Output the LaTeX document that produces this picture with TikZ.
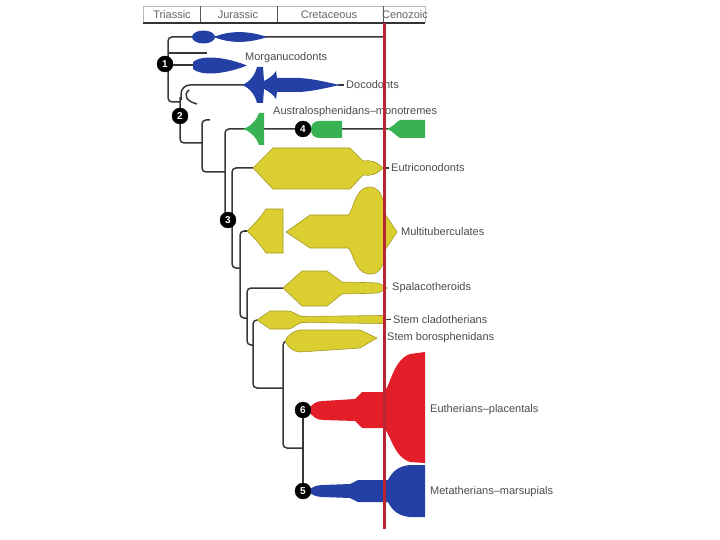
\documentclass[tikz,border=0pt]{standalone}
\usepackage{fontspec}
\setmainfont{Liberation Sans}
\definecolor{blueC}{RGB}{36,64,165}
\definecolor{yelC}{RGB}{218,206,48}
\definecolor{yelD}{RGB}{165,152,40}
\definecolor{grnC}{RGB}{56,178,82}
\definecolor{redC}{RGB}{226,30,40}
\definecolor{lineR}{RGB}{185,38,50}
\definecolor{treeC}{RGB}{55,55,55}
\definecolor{txtC}{RGB}{75,75,75}
\definecolor{hdrC}{RGB}{100,100,100}
\begin{document}
\begin{tikzpicture}[x=1pt,y=-1pt,
  tree/.style={draw=treeC, line width=1.5pt, rounded corners=4pt},
  cnode/.style={circle, fill=black, draw=black, inner sep=0pt, minimum size=16pt, text=white, font=\bfseries\fontsize{10}{10}\selectfont},
  lbl/.style={anchor=west, inner sep=0pt, text=txtC, font=\fontsize{11}{13}\selectfont},
  hdr/.style={text=hdrC, inner sep=0pt, font=\fontsize{11}{12}\selectfont},
  blueb/.style={fill=blueC},
  yelb/.style={fill=yelC, draw=yelD, line width=0.6pt},
  grnb/.style={fill=grnC},
  redb/.style={fill=redC}]
\useasboundingbox (0,0) rectangle (720,540);

% ---------- header ----------
\draw[gray!55, line width=0.8pt] (143,23) -- (143,6) -- (425,6) -- (425,23);
\draw[gray!70!black, line width=0.8pt] (200,6) -- (200,23) (277,6) -- (277,23) (383,6) -- (383,23);
\draw[black!80, line width=2pt] (143,23) -- (425,23);
\node[hdr] (hT) at (172,15) {Triassic};
\node[hdr] (hJ) at (238,15) {Jurassic};
\node[hdr] (hC) at (329,15) {Cretaceous};
\node[hdr] (hZ) at (405,15) {Cenozoic};

% ---------- coordinates ----------
\coordinate (topEnd) at (383,37);
\coordinate (rootTop) at (168,37);
\coordinate (rootBot) at (168,102);
\coordinate (c2join) at (180,102);
\coordinate (stubA) at (168,53);
\coordinate (stubB) at (207,53);
\coordinate (morgTip) at (196,65);
\coordinate (c2top) at (180,97);
\coordinate (c2bot) at (180,143);
\coordinate (c3join) at (202,143);
\coordinate (docoStart) at (181,100);
\coordinate (docoTip) at (243,85);
\coordinate (hookR) at (210,120);
\coordinate (c4top) at (202,120);
\coordinate (c4bot) at (202,172);
\coordinate (c5join) at (225,172);
\coordinate (c5top) at (225,129);
\coordinate (c5bot) at (225,215);
\coordinate (greenEnd) at (388,129);
\coordinate (eutTip) at (254,168);
\coordinate (c6top) at (232,168);
\coordinate (c6bot) at (232,268);
\coordinate (c7join) at (240,268);
\coordinate (multTip) at (248,231);
\coordinate (c7top) at (240,231);
\coordinate (c7bot) at (240,318);
\coordinate (c8join) at (247,318);
\coordinate (spalTip) at (284,288);
\coordinate (c8top) at (247,288);
\coordinate (c8bot) at (247,345);
\coordinate (c9join) at (253,345);
\coordinate (cladTip) at (258,320);
\coordinate (c9top) at (253,320);
\coordinate (c9bot) at (253,388);
\coordinate (c10join) at (283,388);
\coordinate (boroTip) at (286,341);
\coordinate (c10top) at (283,341);
\coordinate (c10bot) at (283,448);
\coordinate (c11join) at (303,448);

% ---------- tree lines ----------
\draw[tree] (topEnd) -- (rootTop) -- (rootBot) -- (c2join);
\draw[tree] (stubA) -- (stubB);
\draw[tree] (165,65) -- (morgTip);
\draw[tree] (c2top) -- (c2bot) -- (c3join);
\draw[tree, rounded corners=9pt] (docoStart) |- (docoTip);
\draw[treeC, line width=1.5pt] (189,90) .. controls (183,95) and (186,101) .. (197,104);
\draw[tree] (hookR) -- (c4top) -- (c4bot) -- (c5join);
\draw[tree] (greenEnd) -- (c5top) -- (c5bot);
\draw[tree] (eutTip) -- (c6top) -- (c6bot) -- (c7join);
\draw[tree] (multTip) -- (c7top) -- (c7bot) -- (c8join);
\draw[tree] (spalTip) -- (c8top) -- (c8bot) -- (c9join);
\draw[tree] (cladTip) -- (c9top) -- (c9bot) -- (c10join);
\draw[tree] (boroTip) -- (c10top) -- (c10bot) -- (c11join);
\draw[tree] (338,85) -- (344,85);
\draw[tree] (383,168) -- (389,168);
\draw[tree] (384,319.5) -- (391,319.5);

% ---------- blue (top, morganucodonts, docodonts) ----------
\fill[blueb] (203.5,37) ellipse [x radius=11.5, y radius=6.5];
\fill[blueb] (214,37) .. controls (230,30) and (250,31) .. (267,37)
  .. controls (250,43) and (230,44) .. (214,37) -- cycle;
\fill[blueb] (193,62) .. controls (200,56) and (220,55) .. (247,65.5)
  .. controls (220,76) and (200,75) .. (193,69) -- cycle;
\fill[blueb] (242,85) .. controls (250,82) and (255,75) .. (257,67) -- (263,67)
  -- (264,81) .. controls (268,79) and (273,76) .. (276,71) -- (277,78) -- (300,78)
  .. controls (315,79) and (330,83) .. (340,85)
  .. controls (330,87) and (315,91) .. (300,92) -- (277,92) -- (276,99)
  .. controls (273,94) and (268,91) .. (264,89) -- (263,103) -- (257,103)
  .. controls (255,95) and (250,88) .. (242,85) -- cycle;

% ---------- green ----------
\fill[grnb] (243,129) .. controls (252,126) and (257,119) .. (259,113) -- (264,113)
  -- (264,145) -- (259,145) .. controls (257,139) and (252,132) .. (243,129) -- cycle;
\fill[grnb] (311,129.5) .. controls (311,124) and (314,121) .. (320,121) -- (342,121)
  -- (342,138) -- (320,138) .. controls (314,138) and (311,135) .. (311,129.5) -- cycle;
\fill[grnb] (387,129) .. controls (393,127) and (396,122) .. (400,120) -- (425,120)
  -- (425,138) -- (400,138) .. controls (396,136) and (393,131) .. (387,129) -- cycle;

% ---------- yellow ----------
\filldraw[yelb] (253,168) -- (273,148) -- (350,148) -- (363,161)
  .. controls (370,160) and (376,161) .. (383,168)
  .. controls (376,175) and (370,176) .. (363,175) -- (350,189) -- (273,189) -- cycle;
\filldraw[yelb] (247,231) .. controls (255,224) and (262,215) .. (266,209) -- (283,209)
  -- (283,253) -- (266,253) .. controls (262,247) and (255,238) .. (247,231) -- cycle;
\filldraw[yelb] (286,232) -- (310,215) -- (348,215)
  .. controls (353,213) and (354,189) .. (368,187)
  .. controls (379,186) and (384,196) .. (385,214) -- (397,232) -- (385,250)
  .. controls (384,268) and (379,275) .. (368,274)
  .. controls (354,272) and (353,250) .. (348,248) -- (310,248) -- cycle;
\filldraw[yelb] (283,288) -- (302,271) -- (327,271) -- (342,282)
  .. controls (358,282.5) and (370,282.5) .. (377,283)
  .. controls (381,284) and (384,286) .. (387,288)
  .. controls (384,290) and (381,292) .. (377,293)
  .. controls (370,293.5) and (358,293.5) .. (342,294) -- (327,306) -- (302,306) -- cycle;
\filldraw[yelb] (257,320) -- (270,311) -- (288,311) .. controls (293,311) and (296,315) .. (302,316.5)
  -- (382,315.5) -- (386,319.5) -- (382,323.5) -- (302,322.5)
  .. controls (296,324) and (293,329) .. (288,329) -- (270,329) -- cycle;
\filldraw[yelb] (285,341) .. controls (288,335) and (293,331) .. (300,330) -- (360,330)
  -- (377,338) -- (360,348) -- (300,352) .. controls (293,352) and (288,347) .. (285,341) -- cycle;

% ---------- eutherians / metatherians ----------
\fill[redb] (308,410) .. controls (312,404) and (316,401) .. (323,401) -- (355,399) -- (362,392)
  -- (383,392) .. controls (390,390) and (392,360) .. (410,354) -- (425,352) -- (425,463)
  -- (410,462) .. controls (392,456) and (390,430) .. (383,428) -- (362,428) -- (355,421)
  -- (323,420) .. controls (316,420) and (312,416) .. (308,410) -- cycle;
\fill[blueb] (308,491) .. controls (312,487) and (316,485) .. (323,485) -- (350,484) -- (358,480)
  -- (388,480) .. controls (392,472) and (398,466) .. (410,465) -- (425,465) -- (425,517)
  -- (410,517) .. controls (398,516) and (392,510) .. (388,502) -- (358,502) -- (350,498)
  -- (323,497) .. controls (316,497) and (312,495) .. (308,491) -- cycle;
\draw[tree] (303,410) -- (303,491);

% ---------- labels ----------
\node[lbl] (lMorg) at (245,58) {Morganucodonts};
\node[lbl] (lDoco) at (346,85) {Docodonts};
\node[lbl] (lAus) at (273,112) {Australosphenidans–monotremes};
\node[lbl] (lEut) at (391,168) {Eutriconodonts};
\node[lbl] (lMult) at (401,232) {Multituberculates};
\node[lbl] (lSpal) at (392,288) {Spalacotheroids};
\node[lbl] (lClad) at (393,319.5) {Stem cladotherians};
\node[lbl] (lBoro) at (387,338) {Stem borosphenidans};
\node[lbl] (lPlac) at (430,410) {Eutherians–placentals};
\node[lbl] (lMars) at (430,492) {Metatherians–marsupials};

% ---------- red K/Pg line ----------
\draw[lineR, line width=3pt] (384.5,23) -- (384.5,529);

% ---------- numbered nodes ----------
\node[cnode] (n1) at (165,64) {1};
\node[cnode] (n2) at (180,116) {2};
\node[cnode] (n3) at (228,220) {3};
\node[cnode] (n4) at (303,129) {4};
\node[cnode] (n6) at (303,410) {6};
\node[cnode] (n5) at (303,491) {5};
\end{tikzpicture}
\end{document}
